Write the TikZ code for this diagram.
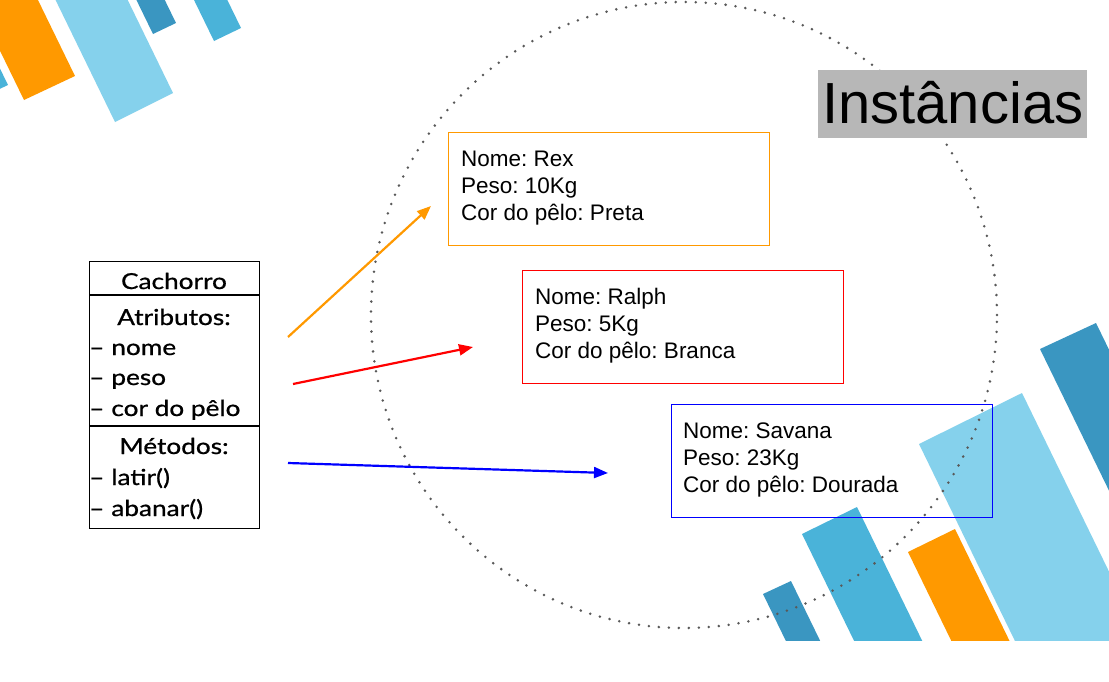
\documentclass[tikz,border=0pt]{standalone}
\usepackage{fontspec}
\setmainfont{Liberation Sans}
\newfontfamily\clsfont[FakeStretch=1.19,FakeBold=0.8]{Lato}
\usetikzlibrary{arrows.meta}
\definecolor{cOrange}{HTML}{FF9900}
\definecolor{cLight}{HTML}{85D1EC}
\definecolor{cDark}{HTML}{3A96C1}
\definecolor{cMid}{HTML}{4AB3D9}
\definecolor{cDot}{HTML}{595959}
\definecolor{cTitle}{HTML}{B7B7B7}
\definecolor{cRed}{HTML}{FF0000}
\definecolor{cBlue}{HTML}{0000FF}
\frenchspacing
\newcommand{\clsdash}{–\hspace{7pt}}
\begin{document}
\begin{tikzpicture}[x=1pt,y=-1pt,
  instbox/.style={draw, line width=1.1pt, minimum width=321pt, minimum height=113pt, anchor=north west, inner sep=0pt},
  insttxt/.style={anchor=base west, inner sep=0pt, font=\fontsize{22.5}{27}\selectfont},
  clstxt/.style={inner sep=0pt, font=\clsfont\fontsize{22}{26}\selectfont},
  inharrow/.style={line width=2.2pt, -{Triangle[length=14pt,width=11pt]}}]
\useasboundingbox (0,0) rectangle (1109,681);
\fill[white] (0,0) rectangle (1109,681);
% decorative bars
\begin{scope}
\clip (0,0) rectangle (1109,640);
\fill[cMid] (-42,108.5) -- (8,85) -- (-79.6,-94.8) -- (-129.6,-71.3) -- cycle;
\fill[cOrange] (24,100) -- (75,76) -- (-12.6,-103.8) -- (-63.6,-79.8) -- cycle;
\fill[cLight] (115,122) -- (173,93) -- (85.4,-86.8) -- (27.4,-57.8) -- cycle;
\fill[cDark] (153,34) -- (176,23) -- (88.4,-156.8) -- (65.4,-145.8) -- cycle;
\fill[cMid] (214,41) -- (241,28) -- (153.4,-151.8) -- (126.4,-138.8) -- cycle;
\fill[cDark] (1040,349) -- (1096,323) -- (1227.4,592.7) -- (1171.4,618.7) -- cycle;
\fill[cLight] (919,444) -- (1022,393) -- (1153.4,662.7) -- (1050.4,713.7) -- cycle;
\fill[cOrange] (908,552) -- (955,529) -- (1086.4,798.7) -- (1039.4,821.7) -- cycle;
\fill[cMid] (802,534) -- (857,507) -- (988.4,776.7) -- (933.4,803.7) -- cycle;
\fill[cDark] (763,594) -- (791,581) -- (922.4,850.7) -- (894.4,863.7) -- cycle;
\end{scope}
% dotted circle
\node[circle, draw=cDot, line width=2.8pt, line cap=round, dash pattern=on 0pt off 10pt, minimum size=626pt, inner sep=0pt] (ring) at (684,315) {};
% title
\node[fill=cTitle, minimum width=269pt, minimum height=68pt, anchor=north west, inner sep=0pt] (titlebox) at (818,70) {};
\node[anchor=base west, inner sep=0pt, font=\fontsize{58}{60}\selectfont] (title) at (822,123) {Instâncias};
% class box
\node[draw, line width=1.2pt, minimum width=170pt, minimum height=267pt, anchor=north west, inner sep=0pt] (cls) at (89,261) {};
\coordinate (d1l) at (89,295); \coordinate (d1r) at (259,295);
\coordinate (d2l) at (89,426); \coordinate (d2r) at (259,426);
\draw[line width=1.2pt] (d1l) -- (d1r);
\draw[line width=1.2pt] (d2l) -- (d2r);
\node[clstxt, anchor=base] (cname) at (174,289) {Cachorro};
\node[clstxt, anchor=base] (cattr) at (174,325) {Atributos:};
\node[clstxt, anchor=base west] (a1) at (89,355) {\clsdash nome};
\node[clstxt, anchor=base west] (a2) at (89,385) {\clsdash peso};
\node[clstxt, anchor=base west] (a3) at (89,416) {\clsdash cor do pêlo};
\node[clstxt, anchor=base] (cmet) at (174,454) {Métodos:};
\node[clstxt, anchor=base west] (m1) at (89,485) {\clsdash latir()};
\node[clstxt, anchor=base west] (m2) at (89,516) {\clsdash abanar()};
% instances
\node[instbox, draw=cOrange] (rex) at (448,132) {};
\node[insttxt] (rex1) at (461,166) {Nome: Rex};
\node[insttxt] (rex2) at (461,193) {Peso: 10Kg};
\node[insttxt] (rex3) at (461,220) {Cor do pêlo: Preta};
\node[instbox, draw=cRed] (ralph) at (522,270) {};
\node[insttxt] (ralph1) at (535,304) {Nome: Ralph};
\node[insttxt] (ralph2) at (535,331) {Peso: 5Kg};
\node[insttxt] (ralph3) at (535,358) {Cor do pêlo: Branca};
\node[instbox, draw=cBlue] (savana) at (671,404) {};
\node[insttxt] (sav1) at (683,438) {Nome: Savana};
\node[insttxt] (sav2) at (683,465) {Peso: 23Kg};
\node[insttxt] (sav3) at (683,492) {Cor do pêlo: Dourada};
% arrows
\coordinate (oS) at (288,337); \coordinate (oE) at (431,206);
\coordinate (rS) at (293,384); \coordinate (rE) at (473,347);
\coordinate (bS) at (288,463); \coordinate (bE) at (608,473);
\draw[inharrow, cOrange] (oS) -- (oE);
\draw[inharrow, cRed] (rS) -- (rE);
\draw[inharrow, cBlue] (bS) -- (bE);
\end{tikzpicture}
\end{document}
